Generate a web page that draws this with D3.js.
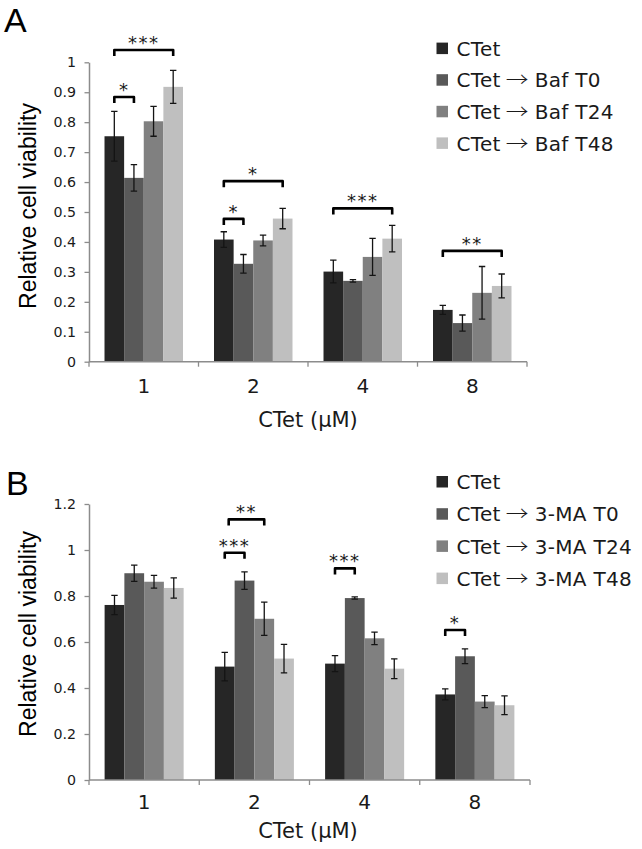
<!DOCTYPE html>
<html><head><meta charset="utf-8">
<script src="https://cdn.jsdelivr.net/npm/d3@7"></script>
<style>body{margin:0;background:#fff} svg{display:block}</style>
</head><body>
<svg id="c" width="642" height="849"></svg>
<script>
// ---- data ----
const categories = ["1", "2", "4", "8"];
const xTitle = "CTet (μM)";
const yTitle = "Relative cell viability";

const seriesA = ["CTet", "CTet → Baf T0", "CTet → Baf T24", "CTet → Baf T48"];
const meansA = [
  [0.753, 0.408, 0.301, 0.173],
  [0.614, 0.327, 0.270, 0.129],
  [0.803, 0.405, 0.350, 0.230],
  [0.918, 0.478, 0.411, 0.253]
];
const errorsA = [
  [0.083, 0.026, 0.038, 0.015],
  [0.044, 0.031, 0.004, 0.027],
  [0.050, 0.018, 0.062, 0.088],
  [0.055, 0.034, 0.044, 0.040]
];
const yTicksA = [0, 0.1, 0.2, 0.3, 0.4, 0.5, 0.6, 0.7, 0.8, 0.9, 1];
const bracketsA = [
  {cat: "1", from: 0, to: 1, level: 0.884, label: "*"},
  {cat: "1", from: 0, to: 3, level: 1.041, label: "***"},
  {cat: "2", from: 0, to: 1, level: 0.477, label: "*"},
  {cat: "2", from: 0, to: 3, level: 0.603, label: "*"},
  {cat: "4", from: 0, to: 3, level: 0.512, label: "***"},
  {cat: "8", from: 0, to: 3, level: 0.370, label: "**"}
];

const seriesB = ["CTet", "CTet → 3-MA T0", "CTet → 3-MA T24", "CTet → 3-MA T48"];
const meansB = [
  [0.761, 0.493, 0.506, 0.372],
  [0.899, 0.867, 0.791, 0.538],
  [0.862, 0.701, 0.616, 0.341],
  [0.835, 0.528, 0.484, 0.325]
];
const errorsB = [
  [0.042, 0.062, 0.035, 0.024],
  [0.035, 0.038, 0.005, 0.032],
  [0.028, 0.072, 0.027, 0.026],
  [0.044, 0.062, 0.043, 0.041]
];
const yTicksB = [0, 0.2, 0.4, 0.6, 0.8, 1, 1.2];
const bracketsB = [
  {cat: "2", from: 0, to: 1, level: 0.988, label: "***"},
  {cat: "2", from: 0.2, to: 2, level: 1.133, label: "**"},
  {cat: "4", from: 0, to: 1, level: 0.920, label: "***"},
  {cat: "8", from: 0, to: 1, level: 0.652, label: "*"}
];

const colors = ["#262626", "#595959", "#808080", "#bfbfbf"];

// ---- drawing ----
const svg = d3.select("#c");
const SANS = "'DejaVu Sans', Verdana, sans-serif";
const ARIAL = "'Liberation Sans', Arial, sans-serif";
const ARROWFONT = "'Noto Sans CJK JP', 'DejaVu Sans', sans-serif";

function panel(cfg) {
  const g = svg.append("g");
  const x = d3.scaleBand().domain(categories).range([cfg.x0, cfg.x1]).padding(0);
  const bw = x.bandwidth();
  const xs = d3.scaleBand().domain(d3.range(cfg.series.length)).range([0, bw]).paddingInner(0).paddingOuter(0.79);
  const y = d3.scaleLinear().domain([0, cfg.yMax]).range([cfg.yBottom, cfg.yTop]);
  const sx = i => xs.step() * (0.79 + i) + xs.bandwidth() / 2;

  // panel letter
  g.append("text").attr("x", cfg.letterX).attr("y", cfg.letterY)
    .style("font-family", ARIAL).style("font-size", "34px").attr("fill", "#000").text(cfg.letter);

  // y axis
  const ya = d3.axisLeft(y).tickValues(cfg.yTicks).tickFormat(d3.format("~g"))
    .tickSize(4.5).tickSizeOuter(0).tickPadding(8.5);
  const yg = g.append("g").attr("transform", `translate(${cfg.x0},0)`).call(ya)
    .attr("font-size", 14.2).attr("font-family", SANS);
  yg.select(".domain").attr("stroke", "#8c8c8c").attr("stroke-width", 1.5);
  yg.selectAll(".tick line").attr("stroke", "#8c8c8c").attr("stroke-width", 1.3);
  yg.selectAll(".tick text").style("font-family", SANS).style("font-size", "14.2px").attr("fill", "#1a1a1a");

  // bars
  cfg.series.forEach((s, si) => {
    const data = categories.map((c, ci) => ({c, v: cfg.means[si][ci], e: cfg.errors[si][ci]}));
    g.append("g").selectAll("rect").data(data).join("rect")
      .attr("x", d => x(d.c) + xs(si))
      .attr("width", xs.bandwidth())
      .attr("y", d => y(d.v))
      .attr("height", d => y(0) - y(d.v))
      .attr("fill", colors[si]);
  });
  // error bars
  cfg.series.forEach((s, si) => {
    const data = categories.map((c, ci) => ({c, v: cfg.means[si][ci], e: cfg.errors[si][ci]}));
    const eg = g.append("g").attr("stroke", "#141414").attr("stroke-width", 1.3).attr("fill", "none");
    data.forEach(d => {
      const cx = x(d.c) + xs(si) + xs.bandwidth() / 2;
      const t = y(d.v + d.e), b = y(d.v - d.e);
      eg.append("path").attr("d", `M${cx},${t}V${b}M${cx - 3.2},${t}H${cx + 3.2}M${cx - 3.2},${b}H${cx + 3.2}`);
    });
  });

  // x axis line + boundary ticks
  g.append("line").attr("x1", cfg.x0).attr("x2", cfg.x1).attr("y1", y(0)).attr("y2", y(0))
    .attr("stroke", "#8c8c8c").attr("stroke-width", 1.5);
  const bounds = categories.map(c => x(c)).concat([x(categories[categories.length - 1]) + bw]);
  g.selectAll(".xt").data(bounds).join("line")
    .attr("x1", d => d).attr("x2", d => d).attr("y1", y(0)).attr("y2", y(0) + 5)
    .attr("stroke", "#8c8c8c").attr("stroke-width", 1.3);
  g.selectAll(".xl").data(categories).join("text")
    .attr("x", d => x(d) + bw / 2).attr("y", y(0) + cfg.xLabelDy)
    .attr("text-anchor", "middle").style("font-family", SANS).style("font-size", "20px")
    .attr("fill", "#1a1a1a").text(d => d);
  g.append("text").attr("x", cfg.xTitleX).attr("y", y(0) + cfg.xTitleDy)
    .attr("text-anchor", "middle").style("font-family", SANS).style("font-size", "21px")
    .attr("fill", "#1a1a1a").text(xTitle);

  // y title
  g.append("text").attr("transform", `translate(${cfg.yTitleX},${cfg.yTitleY}) rotate(-90)`)
    .attr("text-anchor", "middle").style("font-family", ARIAL).style("font-size", "23px")
    .attr("fill", "#000").text(yTitle);

  // brackets
  cfg.brackets.forEach(bk => {
    const xa = x(bk.cat) + sx(bk.from), xb = x(bk.cat) + sx(bk.to);
    const yy = y(bk.level);
    g.append("path").attr("d", `M${xa},${yy + 6}V${yy}H${xb}V${yy + 6}`)
      .attr("fill", "none").attr("stroke", "#000").attr("stroke-width", 2.6)
      .attr("stroke-linejoin", "round");
    g.append("text").attr("x", (xa + xb) / 2).attr("y", yy - 1)
      .attr("text-anchor", "middle").style("font-family", SANS).style("font-size", "18px")
      .style("letter-spacing", "1.5px").attr("fill", "#1a1a1a").text(bk.label);
  });

  // legend
  const lg = g.append("g");
  cfg.series.forEach((s, si) => {
    const cy = cfg.legY + si * cfg.legStep;
    lg.append("rect").attr("x", 436.5).attr("y", cy - 5.7).attr("width", 11.5).attr("height", 11.5).attr("fill", colors[si]);
    const t = lg.append("text").attr("x", 456.5).attr("y", cy + 7.5)
      .style("font-family", SANS).style("font-size", "20px").style("letter-spacing", "0.3px")
      .attr("fill", "#1a1a1a");
    const parts = s.split("→").map(p => p.trim());
    parts.forEach((p, pi) => {
      if (pi > 0) {
        t.append("tspan").attr("dx", 5).style("font-family", ARROWFONT).style("font-weight", "300")
          .attr("textLength", 23).attr("lengthAdjust", "spacingAndGlyphs").text("→");
        t.append("tspan").attr("dx", 6).text(p);
      } else {
        t.append("tspan").text(p);
      }
    });
  });
}

panel({
  letter: "A", letterX: 4, letterY: 31.7,
  series: seriesA, means: meansA, errors: errorsA, yTicks: yTicksA, yMax: 1,
  brackets: bracketsA,
  x0: 89, x1: 527, yBottom: 361.7, yTop: 62.3,
  xLabelDy: 31, xTitleDy: 65, xTitleX: 308,
  yTitleX: 36, yTitleY: 206,
  legY: 48.3, legStep: 31.6
});
panel({
  letter: "B", letterX: 6, letterY: 495,
  series: seriesB, means: meansB, errors: errorsB, yTicks: yTicksB, yMax: 1.2,
  brackets: bracketsB,
  x0: 89, x1: 530, yBottom: 780, yTop: 504,
  xLabelDy: 29, xTitleDy: 58, xTitleX: 308,
  yTitleX: 36, yTitleY: 634,
  legY: 481.7, legStep: 32.2
});
</script>
</body></html>
